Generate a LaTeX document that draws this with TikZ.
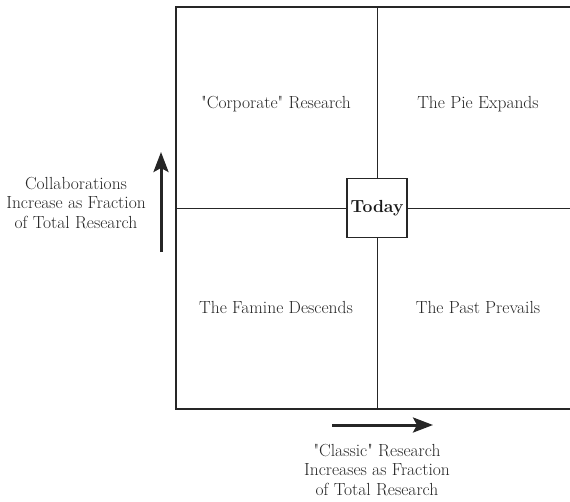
\documentclass[tikz,border=0pt]{standalone}
\usepackage{amsfonts, amssymb, amsmath}
\usetikzlibrary{positioning, arrows.meta}

\begin{document}
\begin{tikzpicture}[
    x=1pt, y=-1pt,
    line width=1.6pt, color=black!85,
    quad style/.style={font=\fontsize{17.5}{20}\selectfont, align=center, text=black!85},
    label style/.style={font=\fontsize{17.5}{19.5}\selectfont, align=center, text=black!85},
    today style/.style={draw, line width=1.1pt, fill=white, minimum width=60pt, minimum height=59pt, font=\fontsize{17.5}{20}\selectfont\bfseries, text=black!90},
    trend/.style={-{Stealth[length=20pt, width=15pt, inset=4pt]}, line width=3pt}
  ]
  \useasboundingbox (0,0) rectangle (570,501);

  % Frame
  \coordinate (tl) at (176,7);
  \coordinate (bl) at (176,409);
  \coordinate (tr) at (575,7);
  \coordinate (br) at (575,409);
  \draw (tr) -- (tl) -- (bl) -- (br);

  % Centre box
  \node[today style] (today) at (377,208) {Today};

  \coordinate (topmid) at (377,7);
  \coordinate (botmid) at (377,409);
  \coordinate (leftmid) at (176,208);
  \coordinate (rightmid) at (575,208);
  \draw[line width=1pt] (topmid) -- (today.north);
  \draw[line width=1pt] (today.south) -- (botmid);
  \draw[line width=1pt] (leftmid) -- (today.west);
  \draw[line width=1pt] (today.east) -- (rightmid);

  % Quadrants
  \node[quad style] (corp)   at (276,104) {\textquotedbl Corporate\textquotedbl{} Research};
  \node[quad style] (pie)    at (478,104) {The Pie Expands};
  \node[quad style] (famine) at (276,307) {The Famine Descends};
  \node[quad style] (past)   at (478,307) {The Past Prevails};

  % Axes
  \coordinate (ylow)  at (161,252);
  \coordinate (yhigh) at (161,152);
  \draw[trend] (ylow) -- (yhigh);
  \node[label style] (collab) at (76,203) {Collaborations\\Increase as Fraction\\of Total Research};

  \coordinate (xlow)  at (332,425);
  \coordinate (xhigh) at (433,425);
  \draw[trend] (xlow) -- (xhigh);
  \node[label style] (classic) at (377,470) {\textquotedbl Classic\textquotedbl{} Research\\Increases as Fraction\\of Total Research};

\end{tikzpicture}
\end{document}
